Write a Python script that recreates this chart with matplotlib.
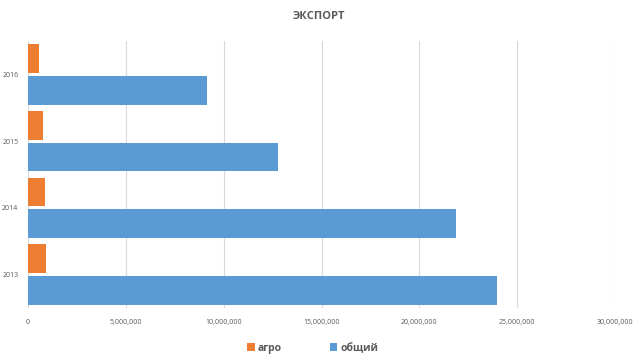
import matplotlib.pyplot as plt
import numpy as np
from matplotlib.ticker import FuncFormatter

plt.rcParams['font.family'] = ['Open Sans', 'DejaVu Sans']

years = ["2013", "2014", "2015", "2016"]
agro = [920000, 870000, 785000, 565000]
total = [23990000, 21850000, 12750000, 9140000]
x_ticks = [0, 5000000, 10000000, 15000000, 20000000, 25000000, 30000000]

COLOR_AGRO = "#ED7D31"
COLOR_TOTAL = "#5B9BD5"
TEXT_GRAY = "#595959"


def main():
    fig = plt.figure(figsize=(6.38, 3.59), dpi=100)
    ax = fig.add_axes([0.044, 0.142, 0.920, 0.744])

    pos = np.arange(len(years))
    h = 0.43
    off = 0.2375
    ax.barh(pos + off, agro, height=h, color=COLOR_AGRO, label="агро", zorder=3)
    ax.barh(pos - off, total, height=h, color=COLOR_TOTAL, label="общий", zorder=3)

    ax.set_xlim(0, 30000000)
    ax.set_ylim(-0.5, 3.5)
    ax.set_xticks(x_ticks)
    ax.xaxis.set_major_formatter(FuncFormatter(lambda v, p: f"{int(v):,}"))
    ax.set_yticks(pos)
    ax.set_yticklabels(years)
    ax.tick_params(axis="both", length=0, labelsize=5, labelcolor=TEXT_GRAY)
    ax.tick_params(axis="x", pad=8)
    ax.tick_params(axis="y", pad=7)

    ax.grid(axis="x", color="#D9D9D9", linewidth=0.8, zorder=0)
    for s in ax.spines.values():
        s.set_visible(False)

    fig.text(0.5, 0.955, "ЭКСПОРТ", ha="center", va="center",
             fontsize=8, fontweight="bold", color=TEXT_GRAY)

    fig.legend(loc="center", bbox_to_anchor=(0.49, 0.03), ncol=2, frameon=False,
               handlelength=0.7, handleheight=0.7, handletextpad=0.3,
               columnspacing=4.6, labelcolor=TEXT_GRAY,
               prop={"weight": "bold", "size": 7.5})

    fig.savefig("out.png", dpi=100)


if __name__ == "__main__":
    main()
